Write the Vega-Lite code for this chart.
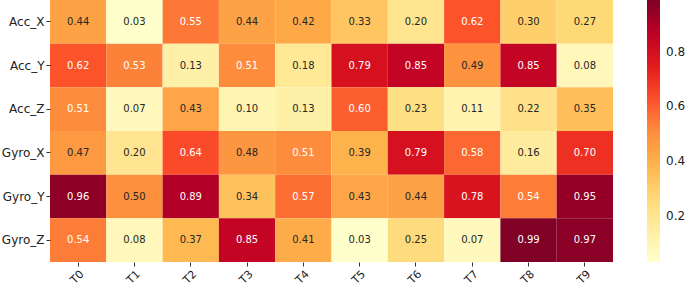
{
  "$schema": "https://vega.github.io/schema/vega-lite/v6.json",
  "width": 563,
  "height": 262,
  "autosize": {"type": "none"},
  "padding": {"left": 50, "top": 0, "right": 72, "bottom": 22},
  "background": "white",
  "config": {"view": {"stroke": null}, "font": "DejaVu Sans"},
  "data": {"values": [
    {"s":"Acc_X","t":"T0","v":0.44},{"s":"Acc_X","t":"T1","v":0.03},{"s":"Acc_X","t":"T2","v":0.55},{"s":"Acc_X","t":"T3","v":0.44},{"s":"Acc_X","t":"T4","v":0.42},{"s":"Acc_X","t":"T5","v":0.33},{"s":"Acc_X","t":"T6","v":0.20},{"s":"Acc_X","t":"T7","v":0.62},{"s":"Acc_X","t":"T8","v":0.30},{"s":"Acc_X","t":"T9","v":0.27},
    {"s":"Acc_Y","t":"T0","v":0.62},{"s":"Acc_Y","t":"T1","v":0.53},{"s":"Acc_Y","t":"T2","v":0.13},{"s":"Acc_Y","t":"T3","v":0.51},{"s":"Acc_Y","t":"T4","v":0.18},{"s":"Acc_Y","t":"T5","v":0.79},{"s":"Acc_Y","t":"T6","v":0.85},{"s":"Acc_Y","t":"T7","v":0.49},{"s":"Acc_Y","t":"T8","v":0.85},{"s":"Acc_Y","t":"T9","v":0.08},
    {"s":"Acc_Z","t":"T0","v":0.51},{"s":"Acc_Z","t":"T1","v":0.07},{"s":"Acc_Z","t":"T2","v":0.43},{"s":"Acc_Z","t":"T3","v":0.10},{"s":"Acc_Z","t":"T4","v":0.13},{"s":"Acc_Z","t":"T5","v":0.60},{"s":"Acc_Z","t":"T6","v":0.23},{"s":"Acc_Z","t":"T7","v":0.11},{"s":"Acc_Z","t":"T8","v":0.22},{"s":"Acc_Z","t":"T9","v":0.35},
    {"s":"Gyro_X","t":"T0","v":0.47},{"s":"Gyro_X","t":"T1","v":0.20},{"s":"Gyro_X","t":"T2","v":0.64},{"s":"Gyro_X","t":"T3","v":0.48},{"s":"Gyro_X","t":"T4","v":0.51},{"s":"Gyro_X","t":"T5","v":0.39},{"s":"Gyro_X","t":"T6","v":0.79},{"s":"Gyro_X","t":"T7","v":0.58},{"s":"Gyro_X","t":"T8","v":0.16},{"s":"Gyro_X","t":"T9","v":0.70},
    {"s":"Gyro_Y","t":"T0","v":0.96},{"s":"Gyro_Y","t":"T1","v":0.50},{"s":"Gyro_Y","t":"T2","v":0.89},{"s":"Gyro_Y","t":"T3","v":0.34},{"s":"Gyro_Y","t":"T4","v":0.57},{"s":"Gyro_Y","t":"T5","v":0.43},{"s":"Gyro_Y","t":"T6","v":0.44},{"s":"Gyro_Y","t":"T7","v":0.78},{"s":"Gyro_Y","t":"T8","v":0.54},{"s":"Gyro_Y","t":"T9","v":0.95},
    {"s":"Gyro_Z","t":"T0","v":0.54},{"s":"Gyro_Z","t":"T1","v":0.08},{"s":"Gyro_Z","t":"T2","v":0.37},{"s":"Gyro_Z","t":"T3","v":0.85},{"s":"Gyro_Z","t":"T4","v":0.41},{"s":"Gyro_Z","t":"T5","v":0.03},{"s":"Gyro_Z","t":"T6","v":0.25},{"s":"Gyro_Z","t":"T7","v":0.07},{"s":"Gyro_Z","t":"T8","v":0.99},{"s":"Gyro_Z","t":"T9","v":0.97}
  ]},
  "encoding": {
    "x": {"field": "t", "type": "nominal", "sort": null, "title": null,
      "scale": {"paddingInner": 0, "paddingOuter": 0},
      "axis": {"labelAngle": -45, "labelAlign": "right", "labelBaseline": "top", "domain": false, "tickSize": 4, "tickColor": "#333", "labelFontSize": 11, "labelColor": "#222", "labelPadding": 2}},
    "y": {"field": "s", "type": "nominal", "sort": null, "title": null,
      "scale": {"paddingInner": 0, "paddingOuter": 0},
      "axis": {"domain": false, "tickSize": 4, "tickColor": "#333", "labelFontSize": 12, "labelColor": "#222", "labelPadding": 2}}
  },
  "layer": [
    {
      "mark": {"type": "rect"},
      "encoding": {
        "color": {"field": "v", "type": "quantitative",
          "scale": {"domain": [0.03, 0.99], "range": ["#ffffcc","#ffeda0","#fed976","#feb24c","#fd8d3c","#fc4e2a","#e31a1c","#bd0026","#800026"], "interpolate": "rgb"},
          "legend": {"title": null, "orient": "none", "legendX": 597, "legendY": 0, "direction": "vertical", "gradientLength": 262, "gradientThickness": 13, "gradientStrokeWidth": 0, "values": [0.2, 0.4, 0.6, 0.8], "labelFontSize": 12, "labelColor": "#222", "labelOffset": 6}}
      }
    },
    {
      "mark": {"type": "text", "fontSize": 10},
      "encoding": {
        "text": {"field": "v", "type": "quantitative", "format": ".2f"},
        "color": {"condition": {"test": "datum.v > 0.505", "value": "white"}, "value": "#262626"}
      }
    }
  ]
}
